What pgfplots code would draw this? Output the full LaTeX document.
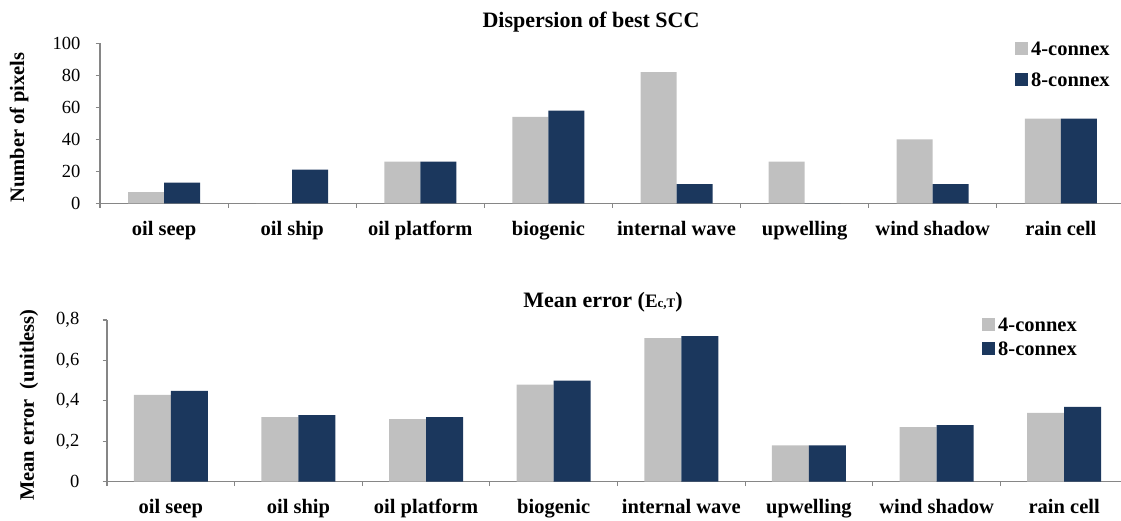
\documentclass[border=0pt]{standalone}
\usepackage{fontspec}
\setmainfont{Liberation Serif}
\usepackage{pgfplots}
\usepackage{pgfplotstable}
\pgfplotsset{compat=1.18}
\definecolor{lg}{RGB}{192,192,192}
\definecolor{nv}{RGB}{27,55,93}
\definecolor{axc}{RGB}{134,134,134}

\pgfplotstableread{
x a b
0 7 13
1 0 21
2 26 26
3 54 58
4 82 12
5 26 0
6 40 12
7 53 53
}\topdata

\pgfplotstableread{
x a b
0 0.43 0.45
1 0.32 0.33
2 0.31 0.32
3 0.48 0.50
4 0.71 0.72
5 0.18 0.18
6 0.27 0.28
7 0.34 0.37
}\botdata

\pgfplotsset{
  sqlegend/.style={legend image code/.code={\fill[##1] (0pt,-6.5pt) rectangle (13pt,6.5pt);}},
  chart/.style={
    scale only axis,
    ybar=0pt,
    axis x line*=bottom,
    axis y line*=left,
    axis line style={axc, line width=1.2pt},
    every tick/.style={axc, line width=1.2pt},
    tick align=outside,
    major tick length=4.5pt,
    xtick pos=bottom, ytick pos=left,
    xmin=-0.5, xmax=7.5,
    xtick={-0.5,0.5,1.5,2.5,3.5,4.5,5.5,6.5,7.5},
    xticklabels={},
    extra x ticks={0,1,2,3,4,5,6,7},
    extra x tick labels={oil seep,oil ship,oil platform,biogenic,internal wave,upwelling,wind shadow,rain cell},
    extra x tick style={major tick length=0pt, xticklabel style={anchor=base, yshift=-32pt, font=\bfseries\fontsize{20.5}{22}\selectfont}},
    yticklabel style={anchor=east, inner sep=0pt, font=\fontsize{18.5}{20}\selectfont},
    /pgf/number format/assume math mode=true,
    legend cell align=left,
    legend style={draw=none, fill=none, anchor=north west, inner sep=0pt,
      font=\bfseries\fontsize{20.5}{22}\selectfont,
      nodes={inner sep=0pt, text height=14pt, text depth=0pt},
      column sep=3pt},
  }
}

\begin{document}
\begin{tikzpicture}[x=1pt,y=1pt]
\path[use as bounding box] (0,0) rectangle (1121,-520);

\begin{axis}[chart,
  at={(100pt,-203.3pt)}, anchor=south west,
  width=1025pt, height=160pt,
  ymin=0, ymax=100, ytick={0,20,40,60,80,100},
  yticklabel style={xshift=-15pt},
  bar width=36pt,
  legend style={at={(0.8927,1.0144)}, row sep=17pt},
]
\addplot[fill=lg, draw=none, sqlegend] table[x=x,y=a]{\topdata};
\addplot[fill=nv, draw=none, sqlegend] table[x=x,y=b]{\topdata};
\legend{4-connex,8-connex}
\end{axis}

\begin{axis}[chart,
  at={(107pt,-481.7pt)}, anchor=south west,
  width=1021pt, height=161.7pt,
  ymin=0, ymax=0.8, ytick={0,0.2,0.4,0.6,0.8},
  yticklabel style={xshift=-23pt, /pgf/number format/.cd, use comma, fixed, precision=1},
  bar width=37pt,
  legend style={at={(0.8570,1.0155)}, row sep=10pt},
]
\addplot[fill=lg, draw=none, sqlegend] table[x=x,y=a]{\botdata};
\addplot[fill=nv, draw=none, sqlegend] table[x=x,y=b]{\botdata};
\legend{4-connex,8-connex}
\end{axis}

\node[anchor=base, font=\bfseries\fontsize{22}{24}\selectfont] at (591,-27) {Dispersion of best SCC};
\node[anchor=base, font=\bfseries\fontsize{22}{24}\selectfont] at (603,-307) {Mean error ({\fontsize{19}{20}\selectfont E}{\fontsize{13}{14}\selectfont c,T})};
\node[rotate=90, font=\bfseries\fontsize{20.5}{22}\selectfont] at (19,-127.5) {Number of pixels};
\node[rotate=90, font=\bfseries\fontsize{20.5}{22}\selectfont] at (29,-405) {Mean error\ \ (unitless)};
\end{tikzpicture}
\end{document}
